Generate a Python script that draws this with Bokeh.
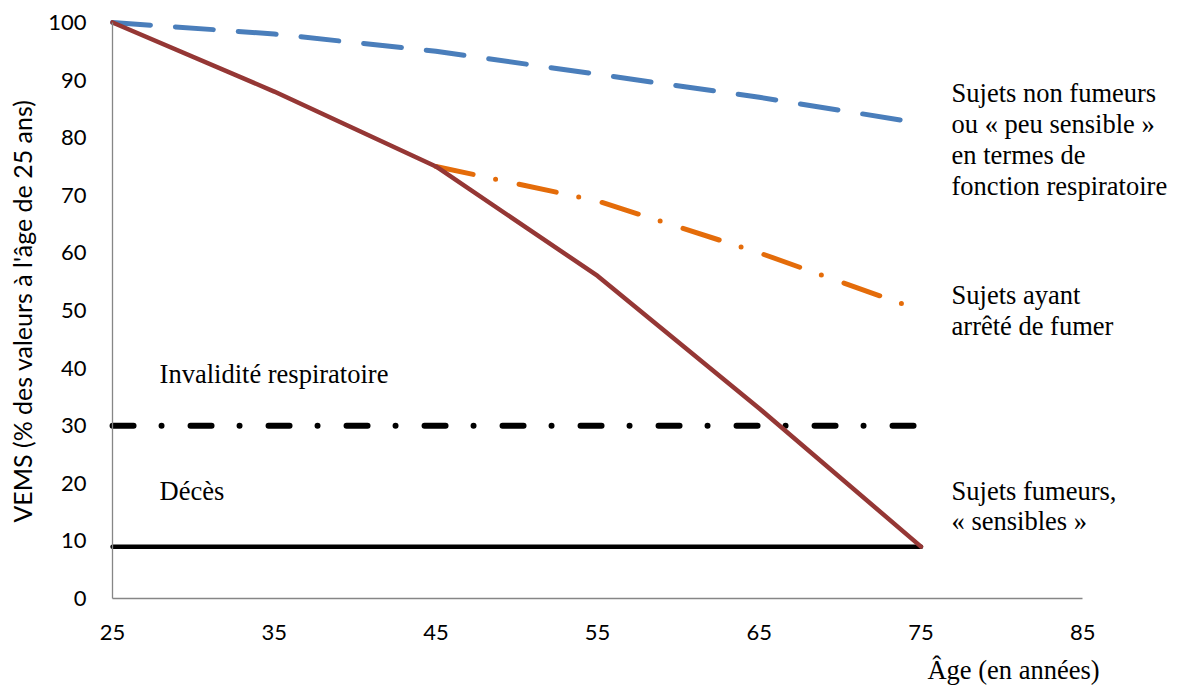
import math
from bokeh.plotting import figure
from bokeh.models import Range1d, FixedTicker, Label
from bokeh.embed import file_html
from bokeh.resources import INLINE

# ---- data ----
ages = [25, 35, 45, 55, 65, 75]
non_fumeurs = [100, 98, 95, 91, 87, 82.5]
ages_arret = [45, 55, 65, 75]
arret = [75, 69, 60, 50]
fumeurs = [100, 88, 75, 56, 33, 9]
seuil_ages = [25, 75]
invalidite = [30, 30]
deces = [9, 9]
x_ticks = [25, 35, 45, 55, 65, 75, 85]
y_ticks = [0, 10, 20, 30, 40, 50, 60, 70, 80, 90, 100]

p = figure(width=1180, height=687, output_backend="svg", toolbar_location=None,
           x_range=Range1d(18.07, 91.05), y_range=Range1d(-15.45, 101.9),
           min_border_left=0, min_border_right=0, min_border_top=11, min_border_bottom=0)
p.outline_line_color = None
p.grid.grid_line_color = None
p.background_fill_color = "white"
p.border_fill_color = "white"

for ax, ticks, b in ((p.xaxis[0], x_ticks, (25, 85)), (p.yaxis[0], y_ticks, (0, 100))):
    ax.ticker = FixedTicker(ticks=ticks)
    ax.bounds = b
    ax.axis_line_color = "#868686"
    ax.axis_line_width = 1.3
    ax.major_tick_line_color = None
    ax.minor_tick_line_color = None
    ax.major_tick_out = 0
    ax.major_tick_in = 0
    ax.major_label_text_font = "Lato"
    ax.major_label_text_font_size = "22px"
    ax.major_label_text_color = "black"

p.xaxis.fixed_location = 0
p.yaxis.fixed_location = 25
p.xaxis.major_label_standoff = 27
p.yaxis.major_label_standoff = 26

# threshold lines
p.line(seuil_ages, deces, line_color="black", line_width=4.5, line_cap="round")
p.line(seuil_ages, invalidite, line_color="black", line_width=6, line_cap="round",
       line_dash="21 28 0 29")
# series
p.line(ages, non_fumeurs, line_color="#4A7EBB", line_width=5, line_cap="round",
       line_join="round", line_dash="38 25")
p.line(ages_arret, arret, line_color="#E46C0A", line_width=5, line_cap="round",
       line_join="round", line_dash="38 23 0 24")
p.line(ages, fumeurs, line_color="#953735", line_width=4.5, line_cap="round",
       line_join="round")

serif = "Liberation Serif"
fs = "26.5px"
texts = [
    (76.89, 87.68, "Sujets non fumeurs"),
    (76.89, 82.30, "ou « peu sensible »"),
    (76.89, 76.91, "en termes de"),
    (76.89, 71.53, "fonction respiratoire"),
    (76.89, 52.61, "Sujets ayant"),
    (76.89, 47.22, "arrêté de fumer"),
    (76.89, 18.58, "Sujets fumeurs,"),
    (76.89, 13.37, "« sensibles »"),
    (27.91, 38.9, "Invalidité respiratoire"),
    (27.91, 18.58, "Décès"),
    (75.4, -12.4, "Âge (en années)"),
]
for x, y, t in texts:
    p.add_layout(Label(x=x, y=y, text=t, text_font=serif, text_font_size=fs,
                       text_color="black", text_baseline="alphabetic", text_align="left"))

p.add_layout(Label(x=19.43, y=49.9, angle=math.pi / 2,
                   text="VEMS (% des valeurs à l'âge de 25 ans)", text_font="Lato",
                   text_font_size="25px", text_color="black",
                   text_align="center", text_baseline="middle"))

open("out.html", "w").write(file_html(p, INLINE))
